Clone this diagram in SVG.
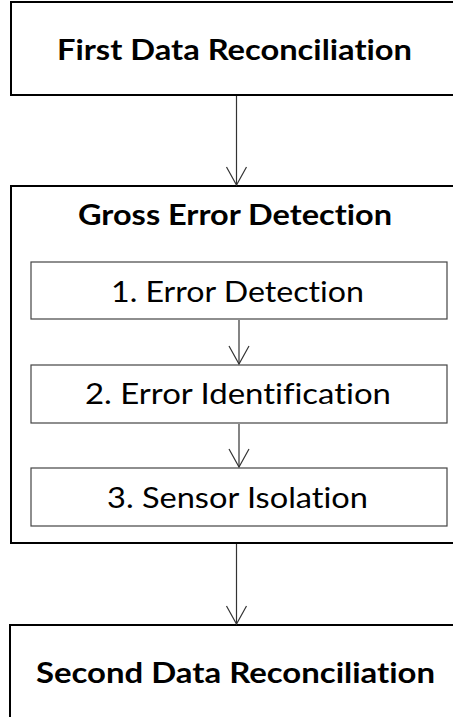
<svg xmlns="http://www.w3.org/2000/svg" width="453" height="717" viewBox="0 0 453 717">
<style>
.outer{fill:#fff;stroke:#000;stroke-width:2}
.inner{fill:#fff;stroke:#444;stroke-width:1.2}
.t{font-family:Lato,"Open Sans","Liberation Sans",sans-serif;font-size:28.5px;fill:#000;text-anchor:middle;font-variant-ligatures:none}
.b{font-weight:bold}
.c{stroke:#333;stroke-width:1.2;fill:none}
</style>
<defs>
<marker id="v" markerUnits="userSpaceOnUse" markerWidth="22" markerHeight="24" viewBox="-2 -2 22 24" refX="18" refY="10" orient="auto">
<path d="M0,0 L18,10 L0,20" fill="none" stroke="#333" stroke-width="1.2"/>
</marker>
</defs>
<rect width="453" height="717" fill="#fff"/>
<g id="first">
<rect class="outer" x="11" y="2" width="450" height="93"/>
<text class="t b" x="234.5" y="60" textLength="355" lengthAdjust="spacingAndGlyphs">First Data Reconciliation</text>
</g>
<g id="gross">
<rect class="outer" x="11" y="186" width="450" height="357"/>
<text class="t b" x="235" y="225" textLength="314" lengthAdjust="spacingAndGlyphs">Gross Error Detection</text>
</g>
<g id="step1">
<rect class="inner" x="31" y="262" width="416" height="57"/>
<text class="t" x="237.5" y="302" textLength="253" lengthAdjust="spacingAndGlyphs">1. Error Detection</text>
</g>
<g id="step2">
<rect class="inner" x="31" y="365" width="416" height="58"/>
<text class="t" x="238" y="404" textLength="306" lengthAdjust="spacingAndGlyphs">2. Error Identification</text>
</g>
<g id="step3">
<rect class="inner" x="31" y="468" width="416" height="58"/>
<text class="t" x="237.5" y="508" textLength="261" lengthAdjust="spacingAndGlyphs">3. Sensor Isolation</text>
</g>
<g id="second">
<rect class="outer" x="10" y="625" width="450" height="100"/>
<text class="t b" x="235.5" y="683" textLength="399" lengthAdjust="spacingAndGlyphs">Second Data Reconciliation</text>
</g>
<g id="connectors">
<line class="c" x1="236.5" y1="96" x2="236.5" y2="185" marker-end="url(#v)"/>
<line class="c" x1="239" y1="320" x2="239" y2="364" marker-end="url(#v)"/>
<line class="c" x1="239" y1="424" x2="239" y2="467" marker-end="url(#v)"/>
<line class="c" x1="236.5" y1="544" x2="236.5" y2="624" marker-end="url(#v)"/>
</g>
</svg>
